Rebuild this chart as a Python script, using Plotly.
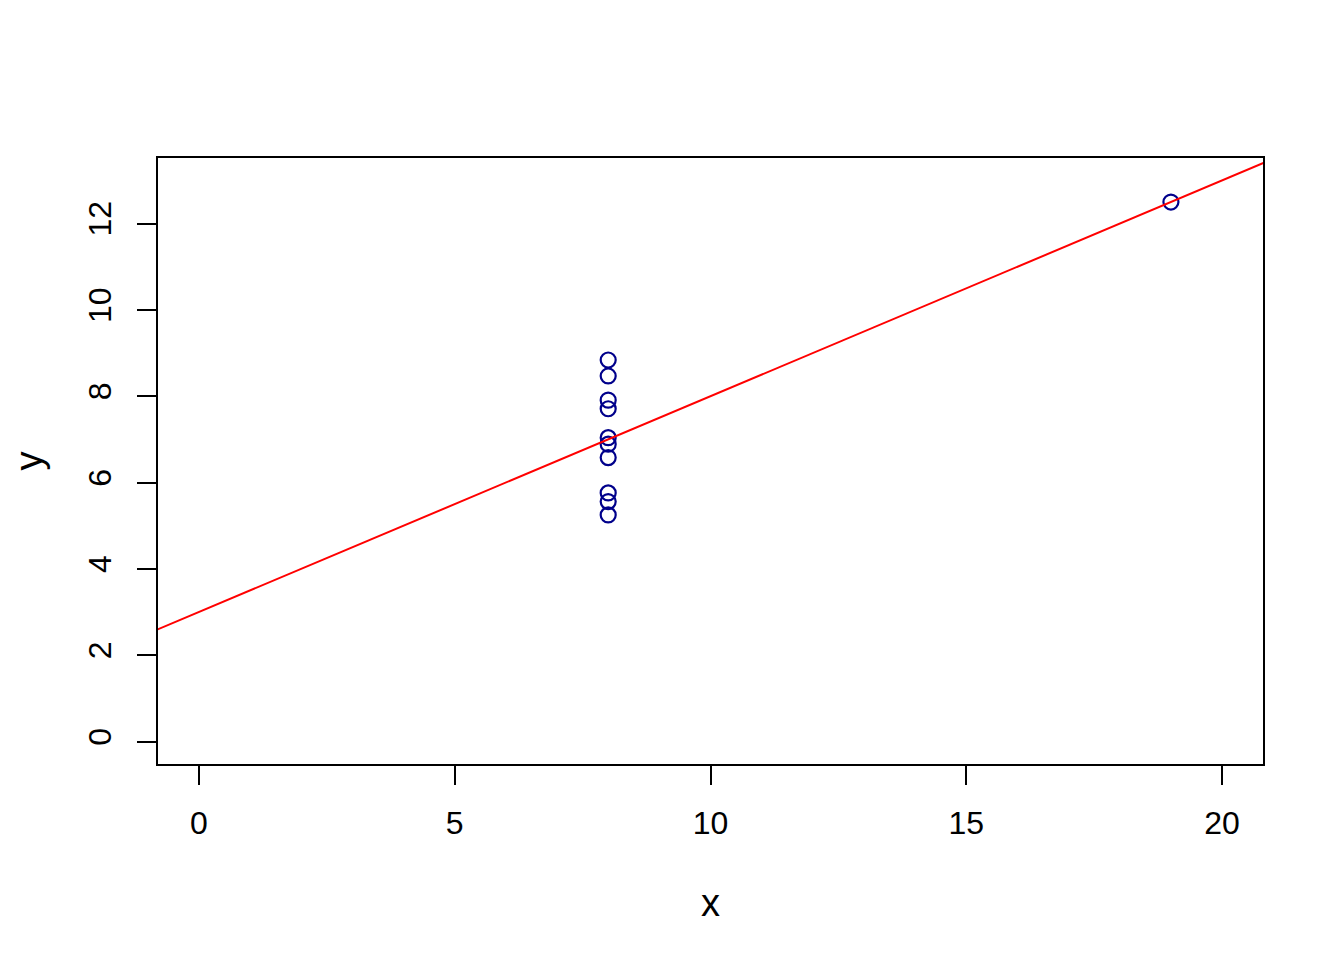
import numpy as np
import plotly.graph_objects as go

x4 = [8, 8, 8, 8, 8, 8, 8, 19, 8, 8, 8]
y4 = [6.58, 5.76, 7.71, 8.84, 8.47, 7.04, 5.25, 12.50, 5.56, 7.91, 6.89]
x_ticks = [0, 5, 10, 15, 20]
y_ticks = [0, 2, 4, 6, 8, 10, 12]

slope, intercept = np.polyfit(x4, y4, 1)
xl = np.array([-2.0, 22.0])
yl = intercept + slope * xl

font = "Liberation Sans, Arial, Helvetica, sans-serif"

fig = go.Figure()
fig.add_trace(go.Scatter(x=x4, y=y4, mode="markers",
                         marker=dict(symbol="circle-open", size=15, color="#00008B",
                                     line=dict(width=2.2, color="#00008B")),
                         showlegend=False, cliponaxis=False))
fig.add_trace(go.Scatter(x=xl, y=yl, mode="lines", line=dict(color="#FF0000", width=2),
                         showlegend=False))

fig.update_layout(
    width=1344, height=960,
    paper_bgcolor="white", plot_bgcolor="white",
    margin=dict(l=150, r=89, t=150, b=204, autoexpand=False),
    font=dict(family=font, size=32, color="black"),
    xaxis=dict(range=[-0.8, 20.8], tickvals=x_ticks, ticks="outside", ticklen=19,
               tickwidth=1.5, tickcolor="black", showline=True, linecolor="black",
               linewidth=1.5, mirror=True, showgrid=False, zeroline=False,
               title=dict(text="x", standoff=49), ticklabelstandoff=11),
    yaxis=dict(range=[-0.52, 13.52], tickvals=y_ticks, ticks="outside", ticklen=19,
               tickwidth=1.5, tickcolor="black", showline=True, linecolor="black",
               linewidth=1.5, mirror=True, showgrid=False, zeroline=False,
               tickangle=-90, title=dict(text="y", standoff=51), ticklabelstandoff=13),
)
fig.write_html("out.html")
